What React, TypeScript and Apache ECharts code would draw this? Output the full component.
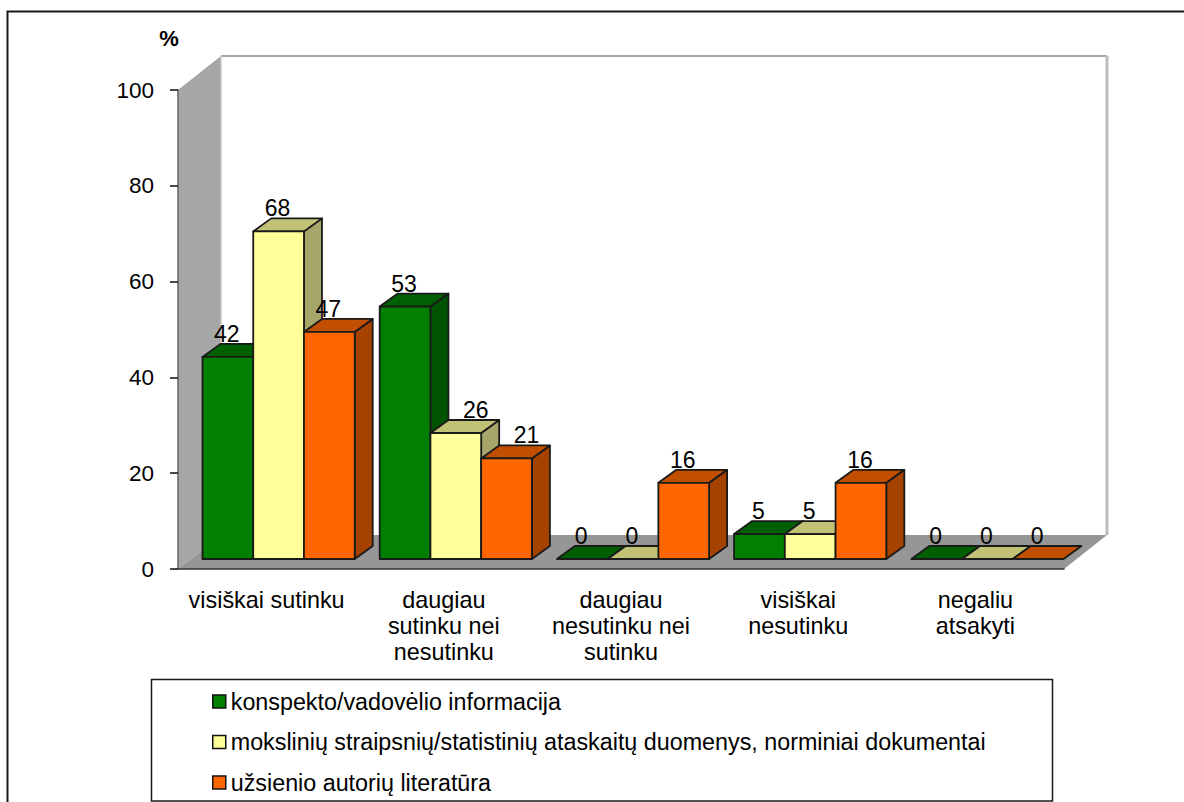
import React, { useEffect, useRef } from "react";
import * as echarts from "echarts";

const categories = [
  "visiškai sutinku",
  "daugiau\nsutinku nei\nnesutinku",
  "daugiau\nnesutinku nei\nsutinku",
  "visiškai\nnesutinku",
  "negaliu\natsakyti",
];
const seriesNames = [
  "konspekto/vadovėlio informacija",
  "mokslinių straipsnių/statistinių ataskaitų duomenys, norminiai dokumentai",
  "užsienio autorių literatūra",
];
const greenValues = [42.2, 52.7, 0, 5.2, 0];
const yellowValues = [68.4, 26.3, 0, 5.2, 0];
const orangeValues = [47.4, 21, 15.9, 15.9, 0];
const yTicks = { min: 0, max: 100, interval: 20 };

const FONT = '"Liberation Sans", Arial, sans-serif';
const WALL_DX = 43;
const WALL_DY = 34;
const BAR_OFF_X = 12;
const BAR_OFF_Y = 10;
const BAR_DX = 18;
const BAR_DY = 13;
const EDGE = "#1a1a1a";

const palette = [
  { front: "#007F00", top: "#005F00", side: "#005300" },
  { front: "#FFFF99", top: "#C2C277", side: "#A6A66A" },
  { front: "#FF6600", top: "#C24E00", side: "#A64200" },
];

function poly(points: number[][], fill: string, z2 = 0) {
  return {
    type: "polygon",
    z2,
    shape: { points },
    style: { fill, stroke: EDGE, lineWidth: 1.8, lineJoin: "round" },
  };
}

function barRenderer(seriesIndex: number) {
  return (_params: any, api: any) => {
    const cat = api.value(0);
    const val = api.value(1);
    const band = api.size([1, 0])[0];
    const w = (band - 25) / 3;
    const topPt = api.coord([cat, val]);
    const basePt = api.coord([cat, 0]);
    const x0 = basePt[0] - band / 2 + 12.5 + BAR_OFF_X + seriesIndex * w;
    const x1 = x0 + w;
    const yb = basePt[1] - BAR_OFF_Y;
    const yt = topPt[1] - BAR_OFF_Y;
    const c = palette[seriesIndex];
    const children: any[] = [];
    if (val > 0) {
      children.push(
        poly([[x1, yt], [x1 + BAR_DX, yt - BAR_DY], [x1 + BAR_DX, yb - BAR_DY], [x1, yb]], c.side)
      );
    }
    children.push(
      poly([[x0, yt], [x1, yt], [x1 + BAR_DX, yt - BAR_DY], [x0 + BAR_DX, yt - BAR_DY]], c.top)
    );
    if (val > 0) {
      children.push(poly([[x0, yt], [x1, yt], [x1, yb], [x0, yb]], c.front));
    }
    // The reference's two labels of the second group were dragged to the right of their bars.
    const moved = cat === 1 && seriesIndex > 0;
    children.push({
      type: "text",
      z2: 5,
      style: {
        text: String(Math.round(val)),
        x: (x0 + x1) / 2 - 1 + (moved ? 21 : 0),
        y: yt - 23,
        fill: "#000",
        font: `23px ${FONT}`,
        align: "center",
        verticalAlign: "middle",
      },
    });
    return { type: "group", children };
  };
}

function wallsRenderer(params: any) {
  const { x, y, width: w, height: h } = params.coordSys;
  const r = x + w;
  const b = y + h;
  return {
    type: "group",
    children: [
      {
        type: "polygon",
        shape: { points: [[x, y], [x + WALL_DX, y - WALL_DY], [x + WALL_DX, b - WALL_DY], [x, b]] },
        style: { fill: "#A6A6A6" },
      },
      {
        type: "polygon",
        shape: { points: [[x, b], [r, b], [r + WALL_DX, b - WALL_DY], [x + WALL_DX, b - WALL_DY]] },
        style: { fill: "#969696" },
      },
      {
        type: "polyline",
        shape: { points: [[x + WALL_DX, y - WALL_DY], [r + WALL_DX, y - WALL_DY]] },
        style: { stroke: "#A8A8A8", lineWidth: 2, fill: "none" },
      },
      {
        type: "polyline",
        shape: { points: [[r + WALL_DX, y - WALL_DY], [r + WALL_DX, b - WALL_DY]] },
        style: { stroke: "#BDBDBD", lineWidth: 3, fill: "none" },
      },
      {
        type: "polyline",
        shape: { points: [[x + WALL_DX, y - WALL_DY], [x + WALL_DX, b - WALL_DY]] },
        style: { stroke: "#C8C8C8", lineWidth: 1.5, fill: "none" },
      },
    ],
  };
}

export default function App() {
  const ref = useRef<HTMLDivElement>(null);
  useEffect(() => {
    document.body.style.margin = "0";
    const chart = echarts.init(ref.current!, null, { renderer: "svg" });
    const valueSets = [greenValues, yellowValues, orangeValues];
    chart.setOption({
      animation: false,
      backgroundColor: "#fff",
      textStyle: { fontFamily: FONT },
      grid: { left: 178, top: 90, width: 886, height: 479, containLabel: false },
      xAxis: {
        type: "category",
        data: categories,
        z: 10,
        axisLine: { lineStyle: { color: "#333", width: 1.5 } },
        axisTick: { length: 8, lineStyle: { color: "#111", width: 1.5 } },
        axisLabel: {
          color: "#000",
          fontFamily: FONT,
          fontSize: 23.4,
          lineHeight: 26,
          margin: 18,
          interval: 0,
        },
      },
      yAxis: {
        type: "value",
        min: yTicks.min,
        max: yTicks.max,
        interval: yTicks.interval,
        z: 10,
        splitLine: { show: false },
        axisLine: { show: true, lineStyle: { color: "#666", width: 1.5 } },
        axisTick: { show: true, length: 8, lineStyle: { color: "#111", width: 1.5 } },
        axisLabel: { color: "#000", fontFamily: FONT, fontSize: 22.5, margin: 24, padding: [3, 0, 0, 0] },
      },
      legend: {
        data: seriesNames.map((name) => ({ name, icon: "rect" })),
        orient: "vertical",
        left: 212,
        top: 690,
        height: 112,
        width: 900,
        itemWidth: 13,
        itemHeight: 13,
        itemGap: 17.5,
        padding: 0,
        selectedMode: false,
        itemStyle: { borderColor: "#111", borderWidth: 1.5 },
        textStyle: { color: "#000", fontFamily: FONT, fontSize: 23.3 },
      },
      graphic: [
        {
          type: "polyline",
          shape: { points: [[7.5, 802], [7.5, 11.5], [1184, 11.5]] },
          style: { stroke: "#1a1a1a", lineWidth: 2, fill: "none" },
        },
        {
          type: "rect",
          shape: { x: 151.5, y: 679.5, width: 901, height: 121.5 },
          style: { fill: "none", stroke: "#1a1a1a", lineWidth: 1.5 },
        },
        {
          type: "text",
          x: 169,
          y: 38,
          style: {
            text: "%",
            fill: "#000",
            font: `bold 22px ${FONT}`,
            align: "center",
            verticalAlign: "middle",
          },
        },
      ],
      series: [
        {
          type: "custom",
          name: "walls",
          silent: true,
          z: 1,
          clip: false,
          renderItem: wallsRenderer,
          data: [[0, 0]],
        },
        ...seriesNames.map((name, i) => ({
          type: "custom",
          name,
          z: 2 + i,
          clip: false,
          renderItem: barRenderer(i),
          encode: { x: 0, y: 1 },
          itemStyle: { color: palette[i].front },
          data: valueSets[i].map((v, c) => [c, v]),
        })),
      ],
    });
    return () => chart.dispose();
  }, []);
  return <div ref={ref} style={{ width: 1184, height: 802 }} />;
}
